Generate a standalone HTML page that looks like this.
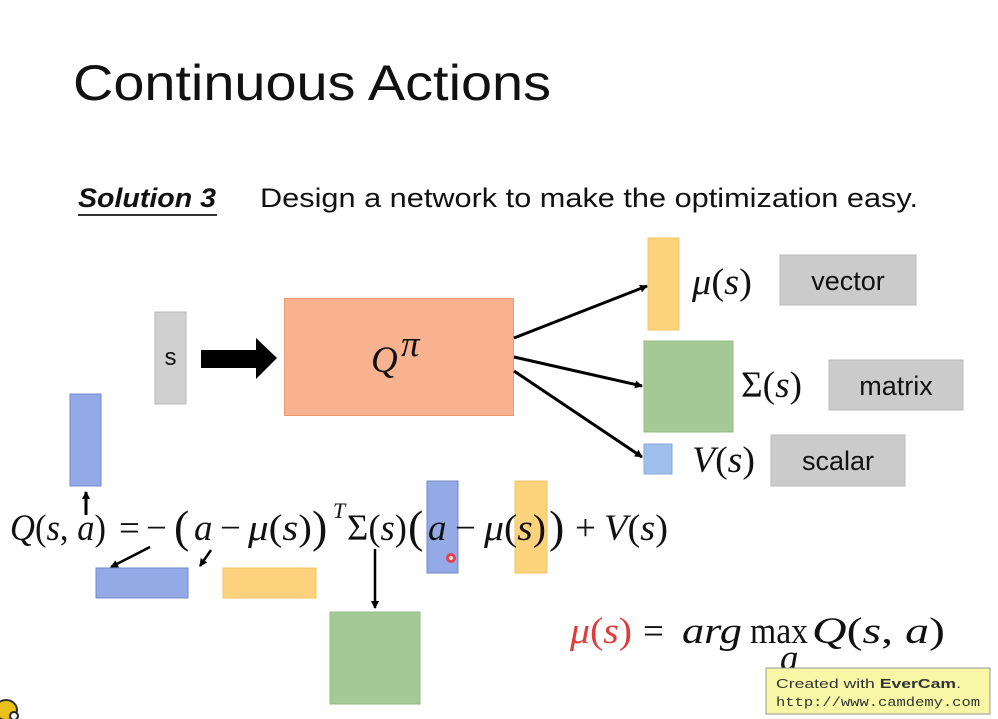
<!DOCTYPE html>
<html><head><meta charset="utf-8"><style>
html,body{margin:0;padding:0;background:#fff;width:998px;height:719px;overflow:hidden}
svg{display:block}
.m{font-family:"Liberation Serif",serif;font-size:37px;fill:#111}
.i{font-style:italic}
.s{font-family:"Liberation Sans",sans-serif;fill:#111}
</style></head><body>
<svg width="998" height="719" viewBox="0 0 998 719" xmlns="http://www.w3.org/2000/svg">
<defs>
<marker id="ah" markerWidth="8" markerHeight="8" refX="7" refY="4" orient="auto" markerUnits="userSpaceOnUse"><path d="M0,0 L8,4 L0,8 Z" fill="#000"/></marker>
</defs>
<text x="73" y="100" class="s" font-size="50" textLength="478" lengthAdjust="spacingAndGlyphs" fill="#222">Continuous Actions</text>
<text x="78" y="207" class="s" font-size="27" font-weight="bold" font-style="italic" textLength="138" lengthAdjust="spacingAndGlyphs">Solution 3</text>
<rect x="78" y="214" width="139" height="2" fill="#333"/>
<text x="260" y="207" class="s" font-size="27" textLength="658" lengthAdjust="spacingAndGlyphs">Design a network to make the optimization easy.</text>

<!-- s box -->
<rect x="155" y="312" width="31" height="92" fill="#d0d0d0" stroke="#b8b8b8"/>
<text x="170.5" y="365" class="s" font-size="24" text-anchor="middle" fill="#333">s</text>
<!-- thick arrow -->
<path d="M201,350 H256 V338 L277,358 L256,379 V368 H201 Z" fill="#000"/>
<!-- Q box -->
<rect x="284.5" y="298.5" width="229" height="117" fill="#f9b28f" stroke="#eb9a70"/>
<text x="371" y="372" class="m i" font-size="38">Q</text>
<text x="401" y="356" class="m i" font-size="26">π</text>

<!-- arrows -->
<line x1="514" y1="338" x2="647" y2="286" stroke="#000" stroke-width="3" marker-end="url(#ah)"/>
<line x1="514" y1="357" x2="642" y2="386" stroke="#000" stroke-width="3" marker-end="url(#ah)"/>
<line x1="514" y1="371" x2="642" y2="457" stroke="#000" stroke-width="3" marker-end="url(#ah)"/>

<!-- right side -->
<rect x="648" y="238" width="31" height="92" fill="#fdd27d" stroke="#f5c465"/>
<text x="692" y="294" class="m" textLength="60" lengthAdjust="spacingAndGlyphs"><tspan class="i">μ</tspan>(<tspan class="i">s</tspan>)</text>
<rect x="780" y="255" width="136" height="50" fill="#cbcbcb" stroke="#bbb"/>
<text x="848" y="290" class="s" font-size="27" text-anchor="middle">vector</text>

<rect x="644" y="341" width="89" height="91" fill="#a4c995" stroke="#96bb86"/>
<text x="741" y="397" class="m" textLength="61" lengthAdjust="spacingAndGlyphs">Σ(<tspan class="i">s</tspan>)</text>
<rect x="829" y="360" width="134" height="50" fill="#cbcbcb" stroke="#bbb"/>
<text x="896" y="395" class="s" font-size="27" text-anchor="middle">matrix</text>

<rect x="644" y="444" width="28" height="30" fill="#9ebfec" stroke="#86aade"/>
<text x="692" y="472" class="m" textLength="63" lengthAdjust="spacingAndGlyphs"><tspan class="i">V</tspan>(<tspan class="i">s</tspan>)</text>
<rect x="771" y="435" width="134" height="51" fill="#cbcbcb" stroke="#bbb"/>
<text x="838" y="470" class="s" font-size="27" text-anchor="middle">scalar</text>

<!-- left blue bar -->
<rect x="70" y="394" width="31" height="92" fill="#94aae6" stroke="#7288c8"/>
<line x1="86" y1="515" x2="86" y2="492" stroke="#000" stroke-width="3" marker-end="url(#ah)"/>

<!-- overlay bars -->
<rect x="427" y="481" width="31" height="92" fill="#94aae6" stroke="#7288c8"/>
<rect x="515" y="481" width="32" height="92" fill="#fdd27d" stroke="#f5c465"/>

<!-- equation -->
<g class="m">
<text x="10" y="540" textLength="96" lengthAdjust="spacingAndGlyphs"><tspan class="i">Q</tspan>(<tspan class="i">s</tspan>, <tspan class="i">a</tspan>)</text>
<text x="119" y="540">=</text>
<text x="146" y="540">−</text>
<text x="174" y="542" font-size="46">(</text>
<text x="194" y="540" class="i">a</text>
<text x="220" y="540">−</text>
<text x="248" y="540" textLength="64" lengthAdjust="spacingAndGlyphs"><tspan class="i">μ</tspan>(<tspan class="i">s</tspan>)</text>
<text x="312" y="542" font-size="46">)</text>
<text x="333" y="518" class="i" font-size="22">T</text>
<text x="347" y="540" textLength="60" lengthAdjust="spacingAndGlyphs">Σ(<tspan class="i">s</tspan>)</text>
<text x="408" y="542" font-size="46">(</text>
<text x="428" y="540" class="i">a</text>
<text x="455" y="540">−</text>
<text x="484" y="540" textLength="62" lengthAdjust="spacingAndGlyphs"><tspan class="i">μ</tspan>(<tspan class="i">s</tspan>)</text>
<text x="549" y="542" font-size="46">)</text>
<text x="575" y="540">+</text>
<text x="604" y="540" textLength="64" lengthAdjust="spacingAndGlyphs"><tspan class="i">V</tspan>(<tspan class="i">s</tspan>)</text>
</g>
<circle cx="451" cy="558" r="5" fill="#e33" opacity="0.85"/>
<circle cx="451" cy="558" r="2" fill="#fdd"/>

<!-- below equation -->
<line x1="150" y1="547" x2="111" y2="567" stroke="#000" stroke-width="2.5" marker-end="url(#ah)"/>
<rect x="96" y="568" width="92" height="30" fill="#94aae6" stroke="#7288c8"/>
<line x1="211" y1="550" x2="200" y2="566" stroke="#000" stroke-width="2.5" marker-end="url(#ah)"/>
<rect x="223" y="568" width="93" height="30" fill="#fdd27d" stroke="#f5c465"/>
<line x1="375" y1="549" x2="375" y2="608" stroke="#000" stroke-width="2.5" marker-end="url(#ah)"/>
<rect x="330" y="612" width="90" height="92" fill="#a4c995" stroke="#96bb86"/>

<!-- argmax -->
<g class="m">
<text x="570" y="643" fill="#e23b3b" textLength="62" lengthAdjust="spacingAndGlyphs"><tspan class="i">μ</tspan>(<tspan class="i">s</tspan>)</text>
<text x="643" y="643">=</text>
<text x="682" y="643" class="i" textLength="60" lengthAdjust="spacingAndGlyphs">arg</text>
<text x="750" y="643" textLength="58" lengthAdjust="spacingAndGlyphs">max</text>
<text x="812" y="643" textLength="133" lengthAdjust="spacingAndGlyphs"><tspan class="i">Q</tspan>(<tspan class="i">s</tspan>, <tspan class="i">a</tspan>)</text>
</g>
<text x="780" y="670" class="m i" font-size="24">a</text>

<!-- evercam -->
<rect x="766" y="668" width="224" height="46" fill="#f8f7a6" stroke="#999"/>
<text x="776" y="688" font-family="'Liberation Sans',sans-serif" font-size="13" fill="#333" textLength="185" lengthAdjust="spacingAndGlyphs">Created with <tspan font-weight="bold">EverCam</tspan>.</text>
<text x="776" y="706" font-family="'Liberation Mono',monospace" font-size="13" fill="#333" textLength="204" lengthAdjust="spacingAndGlyphs">http://www.camdemy.com</text>

<!-- bee icon -->
<ellipse cx="6" cy="710" rx="11" ry="10" fill="#e8c21a" stroke="#333" stroke-width="2"/>
<circle cx="14" cy="716" r="4" fill="#fff" stroke="#222" stroke-width="2"/>
</svg>
</body></html>
